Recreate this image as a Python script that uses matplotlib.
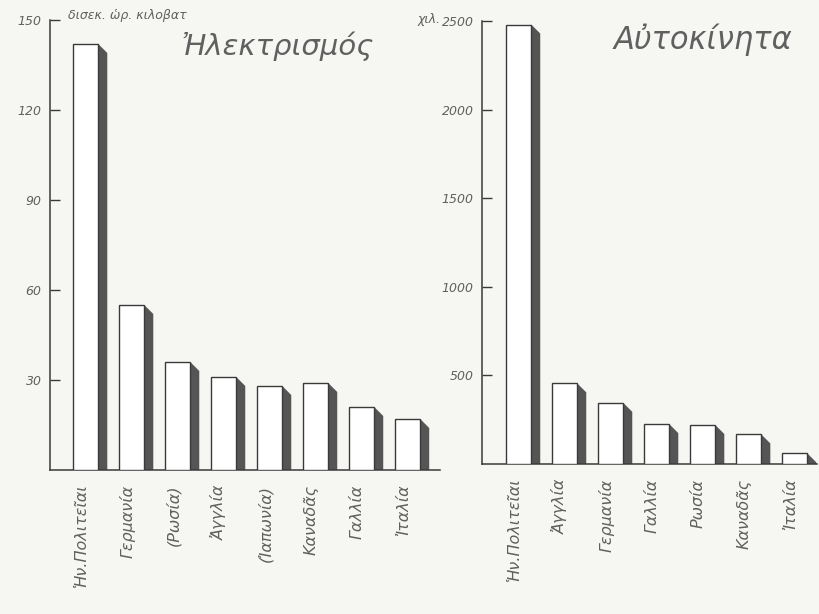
import matplotlib.pyplot as plt
import numpy as np

# electricity, billion kWh
elec_countries = ["Ἡν.Πολιτεῖαι", "Γερμανία", "(Ρωσία)", "Ἀγγλία",
                  "(Ἰαπωνία)", "Καναδᾶς", "Γαλλία", "Ἰταλία"]
elec_values = [142, 55, 36, 31, 28, 29, 21, 17]
elec_ticks = [30, 60, 90, 120, 150]

# cars, thousands
car_countries = ["Ἡν.Πολιτεῖαι", "Ἀγγλία", "Γερμανία", "Γαλλία",
                 "Ρωσία", "Καναδᾶς", "Ἰταλία"]
car_values = [2480, 455, 345, 225, 220, 167, 60]
car_ticks = [500, 1000, 1500, 2000, 2500]

W, H = 820, 614
bg = "#f6f6f3"
ink = "#3a3a3a"
shade = "#555555"
txt = "#606060"
font = ["DejaVu Sans"]

fig = plt.figure(figsize=(W / 100, H / 100), dpi=100, facecolor=bg)


def px_axes(x0, y0, x1, y1):
    # pixel box (top-left origin) -> figure axes
    return fig.add_axes([x0 / W, 1 - y1 / H, (x1 - x0) / W, (y1 - y0) / H])


def draw_panel(ax, values, labels, ticks, ymax, xlim, depth_px):
    ax.set_facecolor(bg)
    x = np.arange(len(values))
    bw = 0.54
    # one pixel in data units
    dx = (xlim[1] - xlim[0]) / (ax.get_position().width * W)
    dy = ymax / (ax.get_position().height * H)
    d_x = depth_px * dx
    d_y = depth_px * dy
    for xi, v in zip(x, values):
        r = xi + bw / 2
        ax.fill([r, r + d_x, r + d_x, r], [v, max(v - d_y, 0), 0, 0],
                color=shade, lw=0, zorder=2)
    ax.bar(x, values, width=bw, color="white", edgecolor=ink, lw=1.0, zorder=3)
    ax.set_xlim(*xlim)
    ax.set_ylim(0, ymax)
    for s in ["top", "right"]:
        ax.spines[s].set_visible(False)
    for s in ["left", "bottom"]:
        ax.spines[s].set_color(ink)
        ax.spines[s].set_linewidth(1.1)
    ax.set_xticks([])
    ax.set_yticks(ticks)
    ax.set_yticklabels([str(t) for t in ticks])
    ax.tick_params(axis="y", direction="in", length=7, width=1.0, color=ink,
                   labelsize=9, labelcolor=txt, pad=6)
    for lab in ax.get_yticklabels():
        lab.set_fontstyle("italic")
        lab.set_family(font)
    for xi, lab in zip(x, labels):
        ax.text(xi - 0.1, -0.033, lab, transform=ax.get_xaxis_transform(),
                rotation=90, ha="center", va="top", fontsize=11.5,
                fontstyle="italic", color=txt, family=font)


ax1 = px_axes(50, 20, 440, 470)
draw_panel(ax1, elec_values, elec_countries, elec_ticks, 150, (-0.78, 7.7), 9)

ax2 = px_axes(482, 21, 817, 464)
draw_panel(ax2, car_values, car_countries, car_ticks, 2500, (-0.8, 6.48), 9)

fig.text(68 / W, 1 - 16 / H, "δισεκ. ὡρ. κιλοβατ", fontsize=9,
         fontstyle="italic", color=txt, va="center", family=font)
fig.text(418 / W, 1 - 19 / H, "χιλ.", fontsize=9, fontstyle="italic",
         color=txt, va="center", family=font)
fig.text(278 / W, 1 - 46 / H, "Ἠλεκτρισμός", fontsize=21,
         fontstyle="italic", color=txt, ha="center", va="center",
         family=font)
fig.text(703 / W, 1 - 40 / H, "Αὐτοκίνητα", fontsize=22,
         fontstyle="italic", color=txt, ha="center", va="center",
         family=font)

fig.savefig("out.png", dpi=100, facecolor=bg)
